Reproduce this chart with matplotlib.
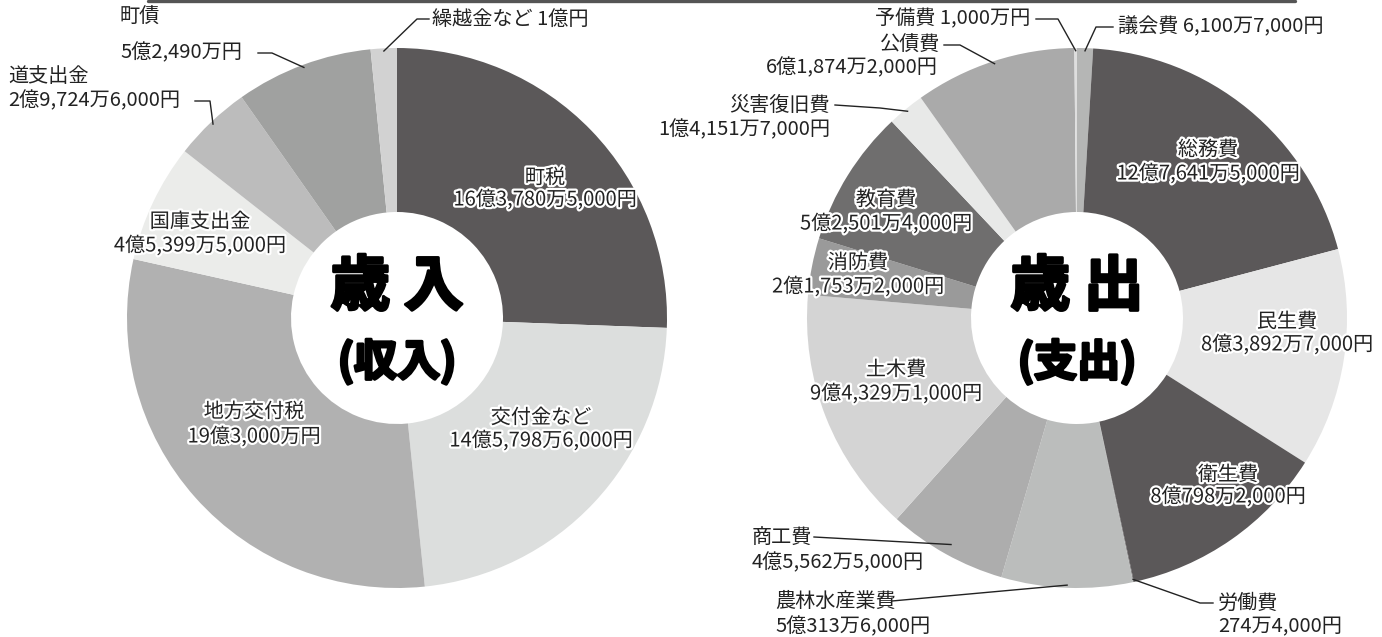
"""
歳入・歳出の円グラフ（ドーナツ型）.
"""

import numpy as np
import matplotlib.pyplot as plt
import matplotlib.patheffects as pe

plt.rcParams['font.family'] = ['Noto Sans CJK JP', 'DejaVu Sans']

# 歳入（単位：円）
rev_names = ['町税', '交付金など', '地方交付税', '国庫支出金', '道支出金', '町債', '繰越金など']
rev_values = [1637805000, 1457986000, 1930000000, 453995000, 297246000, 524900000, 100000000]
rev_texts = ['16億3,780万5,000円', '14億5,798万6,000円', '19億3,000万円', '4億5,399万5,000円',
             '2億9,724万6,000円', '5億2,490万円', '1億円']
rev_colors = ['#5b5859', '#dcdedd', '#b1b1b1', '#ebecea', '#bcbcbc', '#a0a1a0', '#d2d2d2']

# 歳出（単位：円）
exp_names = ['議会費', '総務費', '民生費', '衛生費', '労働費', '農林水産業費', '商工費',
             '土木費', '消防費', '教育費', '災害復旧費', '公債費', '予備費']
exp_values = [61007000, 1276415000, 838927000, 807982000, 2744000, 503136000, 455625000,
              943291000, 217532000, 525014000, 141517000, 618742000, 10000000]
exp_texts = ['6,100万7,000円', '12億7,641万5,000円', '8億3,892万7,000円', '8億798万2,000円',
             '274万4,000円', '5億313万6,000円', '4億5,562万5,000円', '9億4,329万1,000円',
             '2億1,753万2,000円', '5億2,501万4,000円', '1億4,151万7,000円', '6億1,874万2,000円',
             '1,000万円']
exp_colors = ['#b5b6b5', '#5b5859', '#e6e6e6', '#5b5859', '#5b5859', '#bbbdbc', '#adadad',
              '#d4d4d4', '#9a9a9a', '#6f6e6e', '#e8e9e8', '#aaaaaa', '#dedede']

W, H = 1382, 637
FS = 14.5
TXT = '#222222'


def Y(y):
    # координаты картинки (сверху вниз) -> координаты осей
    return H - y


fig = plt.figure(figsize=(W / 100, H / 100), dpi=100)
ax = fig.add_axes([0, 0, 1, 1])

R, R_IN = 270, 106
rev_wedges, _ = ax.pie(rev_values, colors=rev_colors, startangle=90, counterclock=False,
                       center=(397, Y(318)), radius=R,
                       wedgeprops=dict(width=R - R_IN, linewidth=0))
exp_wedges, _ = ax.pie(exp_values, colors=exp_colors, startangle=90, counterclock=False,
                       center=(1077, Y(318)), radius=R,
                       wedgeprops=dict(width=R - R_IN, linewidth=0))

ax.set_xlim(0, W)
ax.set_ylim(0, H)
ax.set_aspect('equal')
ax.axis('off')

# верхняя линия рамки
ax.plot([148, 1295], [Y(1), Y(1)], color='#555555', lw=2.4, solid_capstyle='round')

halo = [pe.withStroke(linewidth=3.2, foreground='white')]


def inner_label(name, value, x, y1, y2):
    ax.text(x, Y(y1), name, ha='center', va='center', fontsize=FS, color=TXT,
            path_effects=halo)
    ax.text(x, Y(y2), value, ha='center', va='center', fontsize=FS, color=TXT,
            path_effects=halo)


def anchor(w, frac=1.0):
    mid = np.deg2rad((w.theta1 + w.theta2) / 2)
    cx, cy = w.center
    return cx + w.r * frac * np.cos(mid), cy + w.r * frac * np.sin(mid)


def leader(w, pts, frac=0.99):
    ax_, ay_ = anchor(w, frac)
    xs = [p[0] for p in pts] + [ax_]
    ys = [Y(p[1]) for p in pts] + [ay_]
    ax.plot(xs, ys, color='#222222', lw=1)


def outer(x, y, s, ha='left'):
    ax.text(x, Y(y), s, ha=ha, va='center', fontsize=FS, color=TXT)


# --- 歳入 ---
inner_label(rev_names[0], rev_texts[0], 545, 178, 200)
inner_label(rev_names[1], rev_texts[1], 541, 418, 441)
inner_label(rev_names[2], rev_texts[2], 254, 412, 437)
inner_label(rev_names[3], rev_texts[3], 200, 222, 246)

# 繰越金など
outer(432, 19, rev_names[6] + ' ' + rev_texts[6])
leader(rev_wedges[6], [(429, 19), (417, 19)])
# 町債
outer(120, 17, rev_names[5])
outer(120, 53, rev_texts[5])
leader(rev_wedges[5], [(258, 53), (272, 53)])
# 道支出金
outer(8, 76, rev_names[4])
outer(8, 101, rev_texts[4])
leader(rev_wedges[4], [(195, 101), (210, 101)])

# --- 歳出 ---
inner_label(exp_names[1], exp_texts[1], 1208, 150, 174)
inner_label(exp_names[2], exp_texts[2], 1287, 322, 345)
inner_label(exp_names[3], exp_texts[3], 1228, 475, 497)
inner_label(exp_names[7], exp_texts[7], 896, 370, 394)
inner_label(exp_names[8], exp_texts[8], 858, 263, 287)
inner_label(exp_names[9], exp_texts[9], 886, 200, 224)

# 予備費
outer(1030, 19, exp_names[12] + ' ' + exp_texts[12], ha='right')
leader(exp_wedges[12], [(1036, 19), (1058, 19)])
# 議会費
outer(1118, 27, exp_names[0] + ' ' + exp_texts[0])
leader(exp_wedges[0], [(1113, 27), (1096, 27)])
# 公債費
outer(940, 45, exp_names[11], ha='right')
outer(938, 68, exp_texts[11], ha='right')
leader(exp_wedges[11], [(944, 45), (960, 45)])
# 災害復旧費
outer(830, 105, exp_names[10], ha='right')
outer(830, 130, exp_texts[10], ha='right')
leader(exp_wedges[10], [(835, 105), (880, 108)])
# 商工費
outer(752, 537, exp_names[6])
outer(752, 563, exp_texts[6])
leader(exp_wedges[6], [(814, 537)], frac=0.96)
# 農林水産業費
outer(775, 601, exp_names[5])
outer(775, 627, exp_texts[5])
leader(exp_wedges[5], [(892, 601)], frac=0.99)
# 労働費
outer(1218, 603, exp_names[4])
outer(1218, 627, exp_texts[4])
leader(exp_wedges[4], [(1213, 603), (1200, 603)])

# 中央の文字（太く見せるため黒い縁取り）
heavy = [pe.withStroke(linewidth=2.2, foreground='black')]
for cx, top, sub in [(397, '歳 入', '(収入)'), (1077, '歳 出', '(支出)')]:
    ax.text(cx, Y(288), top, ha='center', va='center', fontsize=43,
            fontweight='bold', color='black', path_effects=heavy)
    ax.text(cx, Y(362), sub, ha='center', va='center', fontsize=31,
            fontweight='bold', color='black', path_effects=heavy)

plt.savefig('out.png', dpi=100)
plt.close()
